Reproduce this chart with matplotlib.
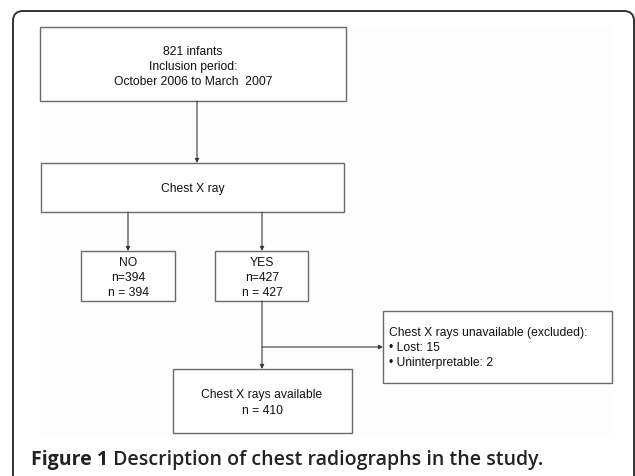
import matplotlib
matplotlib.use('Agg')
import matplotlib.pyplot as plt
from matplotlib.patches import Rectangle, FancyBboxPatch

# box texts
top_text = ['821 infants', 'Inclusion period:', 'October 2006 to March  2007']
xray_text = ['Chest X ray']
no_text = ['NO', 'n=394', 'n = 394']
yes_text = ['YES', 'n=427', 'n = 427']
excl_text = ['Chest X rays unavailable (excluded):', '\u2022 Lost: 15', '\u2022 Uninterpretable: 2']
avail_text = ['Chest X rays available', 'n = 410']
caption_bold = 'Figure 1'
caption_rest = ' Description of chest radiographs in the study.'

# layout in pixels (x0, y0, x1, y1)
boxes = {
    'top': (40, 28, 346, 102),
    'xray': (41, 164, 344, 213),
    'no': (81, 252, 175, 302),
    'yes': (215, 252, 308, 302),
    'excl': (383, 312, 612, 384),
    'avail': (173, 370, 352, 434),
}
arrows = [((197, 102), (197, 164)),
          ((128, 213), (128, 252)),
          ((262, 213), (262, 252)),
          ((262, 302), (262, 370)),
          ((262, 348), (383, 348))]

fig = plt.figure(figsize=(6.35, 4.77), dpi=100)
ax = fig.add_axes([0, 0, 1, 1])
ax.set_xlim(0, 635)
ax.set_ylim(477, 0)
ax.axis('off')

# outer rounded frame
ax.add_patch(FancyBboxPatch((13, 12), 621, 480, boxstyle='round,pad=0,rounding_size=10',
                            fc='white', ec='#333333', lw=1.4))
# faint diagram background
ax.add_patch(Rectangle((40, 28), 572, 407, fc='#fdfdfd', ec='none'))

for x0, y0, x1, y1 in boxes.values():
    ax.add_patch(Rectangle((x0, y0), x1 - x0, y1 - y0, fc='white', ec='#6a6a6a', lw=1.0))

for (xa, ya), (xb, yb) in arrows:
    ax.annotate('', xy=(xb, yb), xytext=(xa, ya),
                arrowprops=dict(arrowstyle='-|>', color='#3a3a3a', lw=0.8,
                                mutation_scale=6, shrinkA=0, shrinkB=0))

fs = 8.7
font = 'Liberation Sans'

def lines(txt, x, y0, dy, ha='center'):
    for i, t in enumerate(txt):
        ax.text(x, y0 + i * dy, t, ha=ha, va='center', fontsize=fs,
                family=font, color='#111111')

lines(top_text, 193, 52, 15)
lines(xray_text, 193, 189, 15)
lines(no_text, 128, 263, 15)
lines(yes_text, 262, 263, 15)
lines(excl_text, 389, 333, 15, ha='left')
lines(avail_text, 262, 395, 16)

cap_fs = 14
t1 = ax.text(31, 460, caption_bold, ha='left', va='center', fontsize=cap_fs,
             family='Open Sans', fontweight='bold', color='#222222')
fig.canvas.draw()
bb = t1.get_window_extent()
x_end = ax.transData.inverted().transform((bb.x1, bb.y0))[0]
ax.text(x_end, 460, caption_rest, ha='left', va='center', fontsize=cap_fs,
        family='Open Sans', fontweight='semibold', color='#222222')

fig.savefig('out.png', dpi=100)
